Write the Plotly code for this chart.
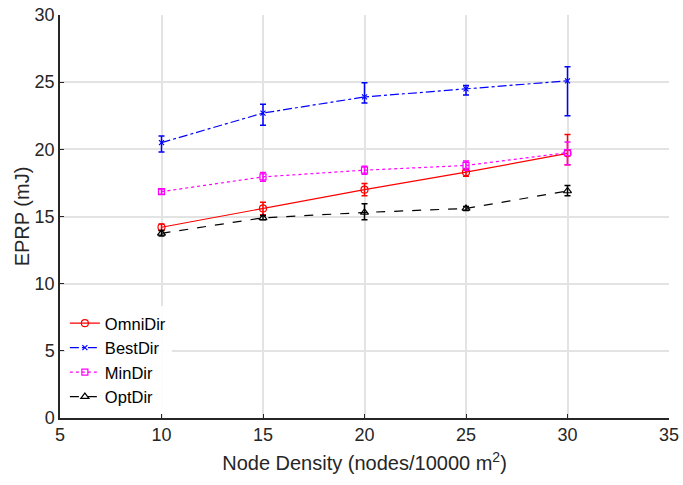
import plotly.graph_objects as go

density = [10, 15, 20, 25, 30]

omni = [14.2, 15.6, 17.0, 18.3, 19.7]
omni_plus = [0.25, 0.47, 0.45, 0.2, 1.4]
omni_minus = [0.25, 0.47, 0.45, 0.3, 0.85]

best = [20.5, 22.7, 23.9, 24.5, 25.1]
best_plus = [0.5, 0.65, 1.05, 0.25, 1.05]
best_minus = [0.7, 0.9, 0.45, 0.45, 2.6]

mindir = [16.85, 17.95, 18.45, 18.8, 19.75]
min_plus = [0.2, 0.33, 0.3, 0.33, 0.8]
min_minus = [0.2, 0.33, 0.3, 0.35, 0.9]

opt = [13.75, 14.9, 15.3, 15.6, 16.9]
opt_plus = [0.2, 0.15, 0.65, 0.15, 0.4]
opt_minus = [0.2, 0.15, 0.55, 0.15, 0.35]

series = [
    ("OmniDir", omni, omni_plus, omni_minus, "#ff0000", "solid", "circle-open", 7),
    ("BestDir", best, best_plus, best_minus, "#0000ff", "dashdot", "x-thin-open", 5),
    ("MinDir", mindir, min_plus, min_minus, "#ff00ff", "dot", "square-open", 6),
    ("OptDir", opt, opt_plus, opt_minus, "#000000", "dash", "triangle-up-open", 7),
]

fig = go.Figure()
for name, ys, ep, em, color, dash, sym, msize in series:
    fig.add_trace(go.Scatter(
        x=density, y=ys, name=name, mode="lines+markers",
        line=dict(color=color, width=1.2, dash=dash),
        marker=dict(symbol=sym, size=msize, color=color, line=dict(color=color, width=1.2)),
        error_y=dict(type="data", symmetric=False, array=ep, arrayminus=em,
                     color=color, thickness=1.5, width=3),
    ))

fig.update_layout(
    width=683, height=485,
    margin=dict(l=60, r=14, t=15, b=67, autoexpand=False),
    paper_bgcolor="white", plot_bgcolor="white",
    font=dict(family="Liberation Sans, Arial, sans-serif", size=18, color="#262626"),
    xaxis=dict(
        range=[5, 35], tickvals=[5, 10, 15, 20, 25, 30, 35],
        showgrid=True, gridcolor="#e3e3e3", gridwidth=1.5,
        showline=True, linecolor="#262626", linewidth=1.5,
        ticks="inside", ticklen=4, tickcolor="#262626",
        zeroline=False, automargin=False,
        title=dict(text="Node Density (nodes/10000 m<sup>2</sup>)", font=dict(size=20), standoff=12),
        tickfont=dict(size=18),
    ),
    yaxis=dict(
        range=[0, 30], tickvals=[0, 5, 10, 15, 20, 25, 30],
        showgrid=True, gridcolor="#e3e3e3", gridwidth=1.5,
        showline=True, linecolor="#262626", linewidth=1.5,
        ticks="inside", ticklen=4, tickcolor="#262626",
        zeroline=False, automargin=False,
        title=dict(text="EPRP (mJ)", font=dict(size=20), standoff=0),
        tickfont=dict(size=18),
    ),
    legend=dict(
        x=0.008, y=0.01, xanchor="left", yanchor="bottom",
        bgcolor="rgba(255,255,255,0.9)", borderwidth=0,
        font=dict(size=16.5, color="#000000"), tracegroupgap=0,
        itemwidth=30,
    ),
)

fig.write_html(
    "out.html",
    config={"displayModeBar": False},
    post_script="document.body.style.margin='0';document.body.style.padding='0';",
)
